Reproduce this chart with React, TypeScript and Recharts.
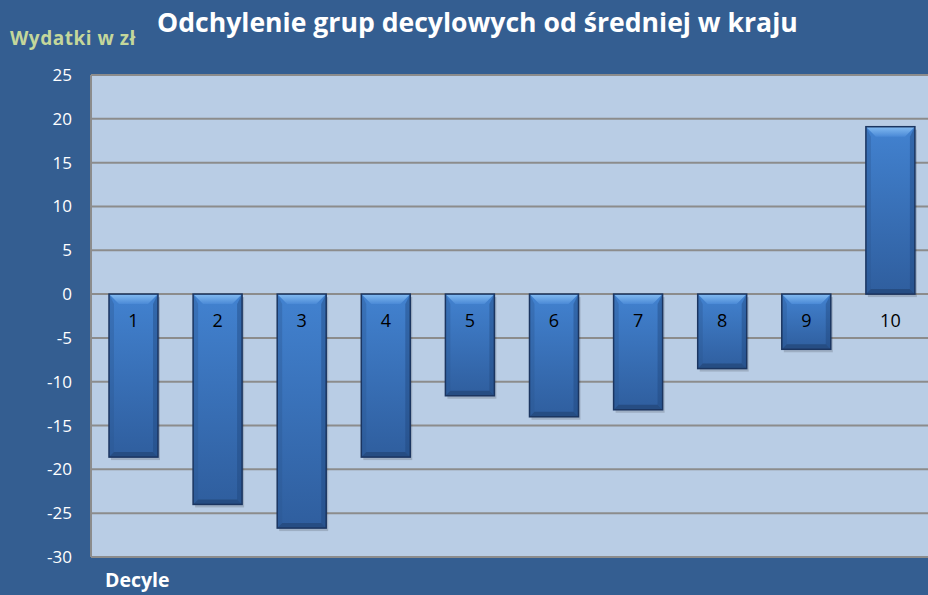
import React from "react";
import { BarChart, Bar, XAxis, YAxis, CartesianGrid, LabelList } from "recharts";

const deciles = ["1", "2", "3", "4", "5", "6", "7", "8", "9", "10"];
const deviation = [-18.6, -24.0, -26.7, -18.6, -11.6, -14.0, -13.2, -8.5, -6.3, 19.1];
const yTicks = [-30, -25, -20, -15, -10, -5, 0, 5, 10, 15, 20, 25];

const data = deciles.map((name, i) => ({ name, value: deviation[i] }));

const FONT = "'Open Sans', 'DejaVu Sans', sans-serif";

// bevelled bar like the Excel preset
const BevelBar = (props: any) => {
  const { x, y, width, height } = props;
  const top = Math.min(y, y + height);
  const h = Math.abs(height);
  const b = 10;
  const bb = 5;
  return (
    <g>
      <rect x={x + 2} y={top + 3} width={width} height={h} fill="#000" opacity={0.15} />
      <rect x={x} y={top} width={width} height={h} fill="url(#barBody)" />
      <polygon
        points={`${x},${top} ${x + width},${top} ${x + width - b},${top + b} ${x + b},${top + b}`}
        fill="url(#barTop)"
      />
      <polygon
        points={`${x},${top} ${x + 5},${top + b} ${x + 5},${top + h - bb} ${x},${top + h}`}
        fill="#2A5590"
        opacity={0.35}
      />
      <polygon
        points={`${x + width},${top} ${x + width - 5},${top + b} ${x + width - 5},${top + h - bb} ${x + width},${top + h}`}
        fill="#1E4477"
        opacity={0.4}
      />
      <polygon
        points={`${x},${top + h} ${x + 5},${top + h - bb} ${x + width - 5},${top + h - bb} ${x + width},${top + h}`}
        fill="#24497C"
        opacity={0.8}
      />
      <rect x={x} y={top} width={width} height={h} fill="none" stroke="#1B3560" strokeWidth={1.5} />
    </g>
  );
};

const DecileLabel = (props: any) => {
  const { x, y, width, height, index, value } = props;
  const v = deviation[index];
  const zero = v < 0 ? Math.min(y, y + height) : Math.max(y, y + height);
  return (
    <text
      x={x + width / 2}
      y={zero + 28}
      textAnchor="middle"
      dominantBaseline="middle"
      fill="#000"
      fontSize={18}
      fontFamily={FONT}
    >
      {value}
    </text>
  );
};

export default function App() {
  return (
    <div style={{ position: "absolute", left: 0, top: 0, width: 928, height: 595, background: "#345E91", overflow: "hidden" }}>
      <div
        style={{
          position: "absolute",
          left: 157,
          top: 4,
          color: "#fff",
          fontFamily: FONT,
          fontWeight: 700,
          fontSize: 26.6,
          whiteSpace: "nowrap",
        }}
      >
        Odchylenie grup decylowych od średniej w kraju
      </div>
      <div
        style={{
          position: "absolute",
          left: 10,
          top: 25,
          color: "#C4D79B",
          fontFamily: FONT,
          fontWeight: 700,
          fontSize: 19,
          letterSpacing: 0.5,
          whiteSpace: "nowrap",
        }}
      >
        Wydatki w zł
      </div>
      <div
        style={{
          position: "absolute",
          left: 105,
          top: 566,
          color: "#fff",
          fontFamily: FONT,
          fontWeight: 700,
          fontSize: 19.5,
          whiteSpace: "nowrap",
        }}
      >
        Decyle
      </div>
      <BarChart
        width={932}
        height={595}
        data={data}
        margin={{ top: 75, right: 0, bottom: 38, left: 0 }}
        style={{ position: "absolute", left: 0, top: 0 }}
      >
        <defs>
          <linearGradient id="barBody" x1="0" x2="0" y1="0" y2="1">
            <stop offset="0%" stopColor="#4282D0" />
            <stop offset="100%" stopColor="#2F5E9E" />
          </linearGradient>
          <linearGradient id="barTop" x1="0" x2="0" y1="0" y2="1">
            <stop offset="0%" stopColor="#84BCF2" />
            <stop offset="100%" stopColor="#4A89D6" />
          </linearGradient>
        </defs>
        <CartesianGrid vertical={false} fill="#B9CDE5" stroke="#8C8C8C" strokeWidth={2} horizontalValues={yTicks} />
        <XAxis dataKey="name" hide />
        <YAxis
          width={91}
          domain={[-30, 25]}
          ticks={yTicks}
          interval={0}
          tickLine={false}
          tickSize={0}
          tickMargin={19}
          axisLine={{ stroke: "#8C8C8C", strokeWidth: 2 }}
          tick={{ fill: "#fff", fontSize: 17, fontFamily: FONT }}
        />
        <Bar dataKey="value" barSize={49} shape={BevelBar} isAnimationActive={false}>
          <LabelList dataKey="name" content={DecileLabel} />
        </Bar>
      </BarChart>
    </div>
  );
}
